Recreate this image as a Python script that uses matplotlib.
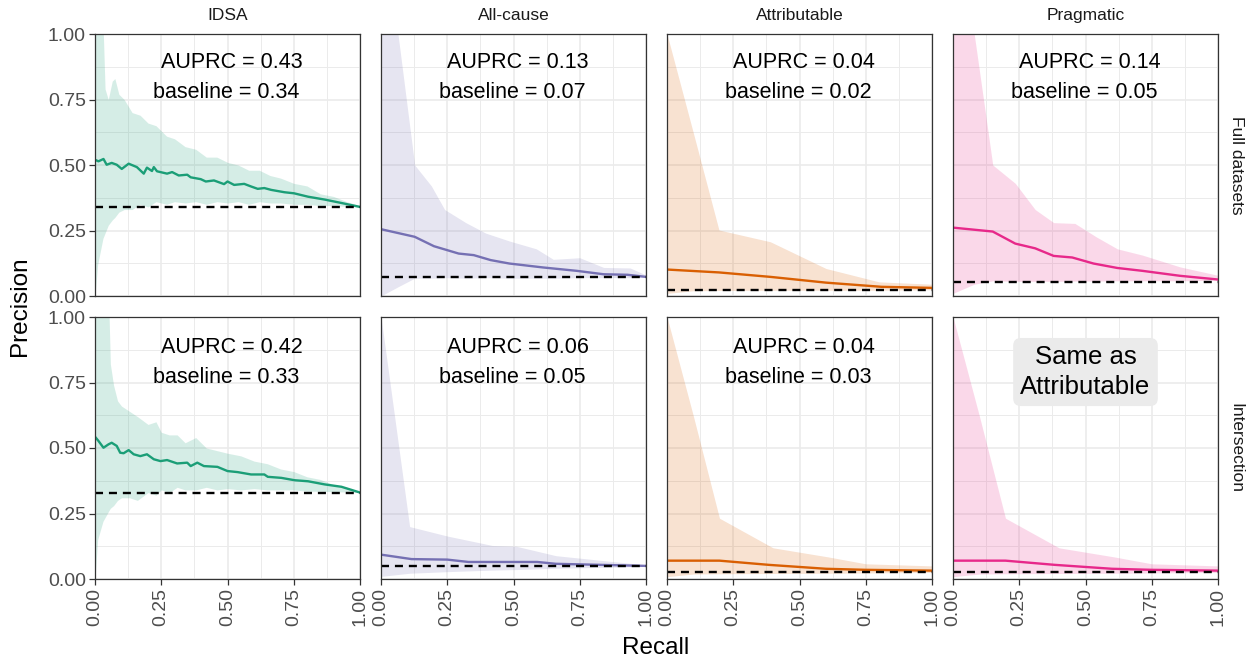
import numpy as np
import matplotlib
matplotlib.use("Agg")
import matplotlib.pyplot as plt
from matplotlib.ticker import MultipleLocator

plt.rcParams['font.family'] = ['Liberation Sans', 'DejaVu Sans']

# Facet labels
outcomes = ["IDSA", "All-cause", "Attributable", "Pragmatic"]
datasets = ["Full datasets", "Intersection"]
colors = ["#1B9E77", "#7570B3", "#D95F02", "#E7298A"]

# Summary numbers per panel (rows: full, intersection)
auprc_full = [0.43, 0.13, 0.04, 0.14]
base_full = [0.34, 0.073, 0.024, 0.054]
auprc_int = [0.42, 0.06, 0.04, None]
base_int = [0.33, 0.05, 0.028, 0.028]

# ---- Full datasets ----
idsa_full_x = [0, 0.013, 0.032, 0.044, 0.063, 0.082, 0.101, 0.127, 0.158, 0.184, 0.196, 0.215,
               0.222, 0.234, 0.272, 0.291, 0.316, 0.348, 0.361, 0.399, 0.418, 0.449, 0.487, 0.5,
               0.525, 0.563, 0.589, 0.614, 0.639, 0.665, 0.715, 0.751, 0.804, 0.867, 0.93, 1.0]
idsa_full_y = [0.52, 0.514, 0.523, 0.501, 0.508, 0.501, 0.485, 0.505, 0.492, 0.467, 0.49, 0.477,
               0.492, 0.476, 0.467, 0.473, 0.46, 0.463, 0.453, 0.446, 0.437, 0.441, 0.427, 0.437,
               0.424, 0.428, 0.418, 0.409, 0.412, 0.405, 0.396, 0.392, 0.379, 0.368, 0.355, 0.34]
idsa_full_band_x = [0, 0.01, 0.03, 0.038, 0.05, 0.065, 0.075, 0.09, 0.11, 0.14, 0.17, 0.2, 0.23,
                    0.27, 0.3, 0.34, 0.38, 0.42, 0.46, 0.5, 0.54, 0.58, 0.62, 0.66, 0.7, 0.75,
                    0.8, 0.85, 0.9, 0.95, 1.0]
idsa_full_hi = [1.05, 1.05, 1.05, 0.79, 0.75, 0.82, 0.83, 0.77, 0.75, 0.70, 0.69, 0.66, 0.65,
                0.61, 0.60, 0.57, 0.56, 0.53, 0.53, 0.51, 0.50, 0.48, 0.48, 0.46, 0.45, 0.43,
                0.42, 0.39, 0.38, 0.36, 0.345]
idsa_full_lo = [0.0, 0.12, 0.22, 0.24, 0.27, 0.29, 0.30, 0.32, 0.33, 0.33, 0.35, 0.34, 0.36,
                0.35, 0.36, 0.355, 0.36, 0.35, 0.36, 0.355, 0.36, 0.35, 0.36, 0.355, 0.355, 0.35,
                0.35, 0.345, 0.345, 0.342, 0.34]

allc_full_x = [0, 0.127, 0.2, 0.293, 0.35, 0.414, 0.484, 0.611, 0.739, 0.84, 0.93, 1.0]
allc_full_y = [0.255, 0.226, 0.19, 0.162, 0.156, 0.137, 0.124, 0.109, 0.096, 0.083, 0.081, 0.073]
allc_full_band_x = [0, 0.064, 0.127, 0.19, 0.24, 0.32, 0.395, 0.484, 0.586, 0.65, 0.75, 0.84, 0.94, 1.0]
allc_full_hi = [1.0, 1.0, 0.5, 0.42, 0.33, 0.28, 0.24, 0.21, 0.18, 0.14, 0.146, 0.109, 0.107, 0.08]
allc_full_lo = [0.0, 0.035, 0.068, 0.068, 0.07, 0.068, 0.07, 0.068, 0.068, 0.068, 0.07, 0.07, 0.07, 0.072]

attr_full_x = [0, 0.196, 0.39, 0.6, 0.81, 1.0]
attr_full_y = [0.101, 0.09, 0.073, 0.051, 0.035, 0.031]
attr_full_band_x = [0, 0.1, 0.196, 0.39, 0.6, 0.8, 1.0]
attr_full_hi = [1.0, 0.62, 0.252, 0.207, 0.105, 0.054, 0.045]
attr_full_lo = [0.01, 0.02, 0.021, 0.022, 0.022, 0.022, 0.024]

prag_full_x = [0, 0.15, 0.235, 0.31, 0.38, 0.45, 0.53, 0.62, 0.715, 0.857, 1.0]
prag_full_y = [0.261, 0.246, 0.2, 0.182, 0.153, 0.147, 0.124, 0.107, 0.096, 0.077, 0.063]
prag_full_band_x = [0, 0.08, 0.15, 0.235, 0.31, 0.38, 0.46, 0.54, 0.62, 0.715, 0.857, 1.0]
prag_full_hi = [1.0, 1.0, 0.5, 0.43, 0.33, 0.28, 0.277, 0.226, 0.18, 0.156, 0.111, 0.079]
prag_full_lo = [0.01, 0.045, 0.058, 0.056, 0.056, 0.056, 0.057, 0.057, 0.058, 0.058, 0.058, 0.06]

# ---- Intersection ----
idsa_int_x = [0, 0.013, 0.032, 0.051, 0.063, 0.082, 0.095, 0.108, 0.127, 0.146, 0.171, 0.196,
              0.222, 0.247, 0.272, 0.31, 0.348, 0.361, 0.386, 0.411, 0.462, 0.5, 0.538, 0.589,
              0.639, 0.652, 0.703, 0.753, 0.804, 0.867, 0.93, 1.0]
idsa_int_y = [0.543, 0.527, 0.501, 0.514, 0.52, 0.508, 0.482, 0.48, 0.492, 0.476, 0.469, 0.476,
              0.457, 0.45, 0.454, 0.441, 0.444, 0.431, 0.444, 0.431, 0.428, 0.412, 0.408, 0.399,
              0.399, 0.39, 0.386, 0.377, 0.373, 0.361, 0.352, 0.33]
idsa_int_band_x = [0, 0.01, 0.03, 0.052, 0.058, 0.07, 0.085, 0.1, 0.13, 0.16, 0.2, 0.23, 0.25,
                   0.28, 0.31, 0.34, 0.38, 0.42, 0.46, 0.5, 0.55, 0.6, 0.65, 0.7, 0.75, 0.8,
                   0.85, 0.9, 0.95, 1.0]
idsa_int_hi = [1.05, 1.05, 1.05, 1.05, 0.82, 0.74, 0.68, 0.66, 0.64, 0.62, 0.59, 0.60, 0.56,
               0.55, 0.55, 0.52, 0.54, 0.50, 0.49, 0.48, 0.47, 0.45, 0.44, 0.42, 0.41, 0.39,
               0.38, 0.36, 0.35, 0.33]
idsa_int_lo = [0.0, 0.15, 0.22, 0.26, 0.27, 0.28, 0.30, 0.31, 0.31, 0.30, 0.33, 0.32, 0.34,
               0.33, 0.35, 0.34, 0.34, 0.35, 0.34, 0.345, 0.34, 0.345, 0.34, 0.34, 0.34, 0.335,
               0.335, 0.333, 0.332, 0.33]

allc_int_x = [0, 0.115, 0.25, 0.33, 0.59, 0.66, 0.87, 1.0]
allc_int_y = [0.093, 0.076, 0.074, 0.065, 0.065, 0.058, 0.053, 0.05]
allc_int_band_x = [0, 0.108, 0.25, 0.42, 0.51, 0.66, 0.87, 1.0]
allc_int_hi = [1.0, 0.2, 0.164, 0.128, 0.125, 0.089, 0.067, 0.054]
allc_int_lo = [0.01, 0.022, 0.028, 0.034, 0.036, 0.041, 0.045, 0.048]

attr_int_x = [0, 0.198, 0.384, 0.6, 0.75, 1.0]
attr_int_y = [0.07, 0.07, 0.054, 0.039, 0.035, 0.032]
attr_int_band_x = [0, 0.1, 0.198, 0.4, 0.61, 0.75, 1.0]
attr_int_hi = [1.0, 0.62, 0.232, 0.119, 0.084, 0.058, 0.05]
attr_int_lo = [0.009, 0.019, 0.02, 0.021, 0.022, 0.023, 0.025]

# Pragmatic intersection is identical to Attributable intersection
prag_int_x, prag_int_y = attr_int_x, attr_int_y
prag_int_band_x, prag_int_hi, prag_int_lo = attr_int_band_x, attr_int_hi, attr_int_lo

rows = [
    [(idsa_full_x, idsa_full_y, idsa_full_band_x, idsa_full_hi, idsa_full_lo),
     (allc_full_x, allc_full_y, allc_full_band_x, allc_full_hi, allc_full_lo),
     (attr_full_x, attr_full_y, attr_full_band_x, attr_full_hi, attr_full_lo),
     (prag_full_x, prag_full_y, prag_full_band_x, prag_full_hi, prag_full_lo)],
    [(idsa_int_x, idsa_int_y, idsa_int_band_x, idsa_int_hi, idsa_int_lo),
     (allc_int_x, allc_int_y, allc_int_band_x, allc_int_hi, allc_int_lo),
     (attr_int_x, attr_int_y, attr_int_band_x, attr_int_hi, attr_int_lo),
     (prag_int_x, prag_int_y, prag_int_band_x, prag_int_hi, prag_int_lo)],
]
auprcs = [auprc_full, auprc_int]
bases = [base_full, base_int]

W, H = 1256, 662
fig = plt.figure(figsize=(W / 100, H / 100), dpi=100)

col_left = [95, 381, 667, 953]
row_top = [34, 317]
pw, ph = 265, 262
ticks = [0, 0.25, 0.5, 0.75, 1.0]
tick_labels = ["0.00", "0.25", "0.50", "0.75", "1.00"]

for r in range(2):
    for c in range(4):
        ax = fig.add_axes([col_left[c] / W, 1 - (row_top[r] + ph) / H, pw / W, ph / H])
        rx, ry, bx, bhi, blo = rows[r][c]
        col = colors[c]

        ax.set_xlim(0, 1)
        ax.set_ylim(0, 1)
        ax.xaxis.set_major_locator(MultipleLocator(0.25))
        ax.yaxis.set_major_locator(MultipleLocator(0.25))
        ax.xaxis.set_minor_locator(MultipleLocator(0.125))
        ax.yaxis.set_minor_locator(MultipleLocator(0.125))
        ax.grid(which="major", color="#EBEBEB", linewidth=1.2, zorder=0)
        ax.grid(which="minor", color="#EBEBEB", linewidth=0.7, zorder=0)
        ax.set_axisbelow(True)

        ax.fill_between(bx, blo, bhi, color=col, alpha=0.18, linewidth=0, zorder=1)
        ax.plot(rx, ry, color=col, linewidth=1.7, zorder=3)
        ax.axhline(bases[r][c], color="black", linewidth=1.7,
                   linestyle=(0, (3.4, 2.5)), zorder=4)

        a = auprcs[r][c]
        if a is not None:
            ty = 0.89 if r == 0 else 0.885
            ax.text(0.515, ty, f"AUPRC = {a:.2f}", ha="center", va="center",
                    fontsize=15.5, transform=ax.transAxes, zorder=5)
            ax.text(0.495, ty - 0.115, f"baseline = {bases[r][c]:.2f}", ha="center",
                    va="center", fontsize=15.5, transform=ax.transAxes, zorder=5)
        else:
            ax.text(0.5, 0.79, "Same as\nAttributable", ha="center", va="center",
                    fontsize=18.5, linespacing=1.3, transform=ax.transAxes, zorder=5,
                    bbox=dict(boxstyle="round,pad=0.28,rounding_size=0.3",
                              facecolor="#EBEBEB", edgecolor="none"))

        for s in ax.spines.values():
            s.set_color("#333333")
            s.set_linewidth(0.9)
            s.set_zorder(6)

        ax.tick_params(which="minor", length=0)
        ax.tick_params(which="major", length=4.5, width=0.9, color="#333333",
                       labelsize=14, labelcolor="#4D4D4D", pad=2)
        if r == 1:
            ax.set_xticks(ticks)
            ax.set_xticklabels(tick_labels, rotation=90)
        else:
            ax.tick_params(axis="x", length=0, labelbottom=False)
        if c == 0:
            ax.set_yticks(ticks)
            ax.set_yticklabels(tick_labels)
        else:
            ax.tick_params(axis="y", length=0, labelleft=False)

        if r == 0:
            ax.text(0.5, 1 + 19 / ph, outcomes[c], ha="center", va="center",
                    fontsize=12.5, color="#1A1A1A", transform=ax.transAxes)
        if c == 3:
            ax.text(1 + 18 / pw, 0.5, datasets[r], ha="center", va="center",
                    rotation=-90, fontsize=12.5, color="#1A1A1A", transform=ax.transAxes)

fig.text(20 / W, 1 - 306 / H, "Precision", rotation=90, ha="center", va="center", fontsize=17.5)
fig.text(656 / W, 1 - 648 / H, "Recall", ha="center", va="center", fontsize=17.5)

fig.savefig("out.png", dpi=100, facecolor="white")
